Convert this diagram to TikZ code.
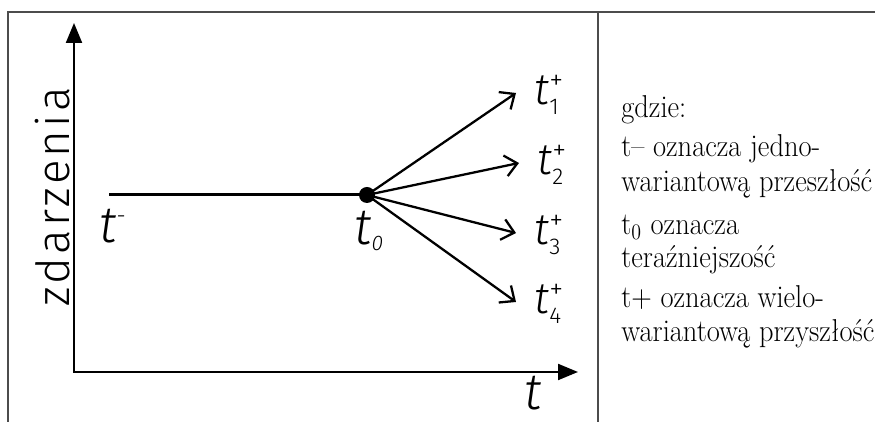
\documentclass[tikz,border=0pt]{standalone}
\usepackage{fontspec}
\newfontfamily\hand{Fira Sans}[UprightFont=* Light,ItalicFont=* Light Italic]
\newfontfamily\legendfont{Latin Modern Roman}[FakeStretch=0.9]
\usetikzlibrary{arrows.meta,positioning}

\begin{document}
\begin{tikzpicture}[>=Stealth,
 branch/.style={line width=1.3pt,-{Straight Barb[length=2.4mm,width=4.2mm,line width=1.3pt]}},
 hand/.style={font=\hand\itshape\fontsize{25}{25}\selectfont,inner sep=0pt},
 bighand/.style={font=\hand\itshape\fontsize{29}{29}\selectfont,inner sep=0pt},
 legend/.style={font=\legendfont\fontsize{18}{20}\selectfont,inner sep=0pt,anchor=base west}]
\useasboundingbox (0,0) rectangle (17.5,8.44);
% frame
\draw[line width=0.8pt,black!70] (0.16,0) -- (0.16,8.2) -- (17.5,8.2);
\draw[line width=0.8pt,black!70] (11.96,0) -- (11.96,8.2);
% axes
\coordinate (o) at (1.48,1.0);
\coordinate (ytip) at (1.48,7.98);
\coordinate (xtip) at (11.56,1.0);
\draw[line width=1.2pt,{Triangle[length=4mm,width=3.2mm]}-{Triangle[length=4mm,width=3.2mm]}] (ytip) -- (o) -- (xtip);
\node[font=\hand\fontsize{26}{26}\selectfont\addfontfeatures{LetterSpace=7},rotate=90,anchor=base,inner sep=0pt] (ev) at (1.38,4.5) {zdarzenia};
\node[bighand,anchor=base west] (tx) at (10.48,0.24) {t};
% past and present
\coordinate (tm) at (2.18,4.54);
\node[circle,fill,minimum size=0.32cm,inner sep=0pt] (t0) at (7.34,4.54) {};
\draw[line width=1.7pt] (tm) -- (t0.center);
\node[bighand,anchor=base west] (lm) at (1.98,3.58) {t\raisebox{11pt}{\fontsize{13}{13}\selectfont\upshape -}};
\node[bighand,anchor=base west] (l0) at (7.08,3.54) {t\raisebox{-3pt}{\fontsize{12}{12}\selectfont 0}};
% futures
\foreach \i/\x/\y in {1/10.32/6.58,2/10.38/5.18,3/10.32/3.78,4/10.32/2.4}{
  \coordinate (e\i) at (\x,\y);
  \draw[branch] (t0.center) -- (e\i);
  \node[hand,anchor=base west] (f\i) at (\x+0.36,\y-0.24) {t\rlap{\raisebox{9pt}{\fontsize{16}{16}\selectfont\upshape +}}\raisebox{-5.5pt}{\fontsize{13}{13}\selectfont\upshape \i}};
}
% legend
\foreach \txt/\y [count=\k] in {gdzie:/6.08,t– oznacza jedno-/5.30,wariantową przeszłość/4.60,t\textsubscript{0} oznacza/3.74,teraźniejszość/3.08,t+ oznacza wielo-/2.28,wariantową przyszłość/1.60}
  \node[legend] (g\k) at (12.42,\y) {\txt};
\end{tikzpicture}
\end{document}
